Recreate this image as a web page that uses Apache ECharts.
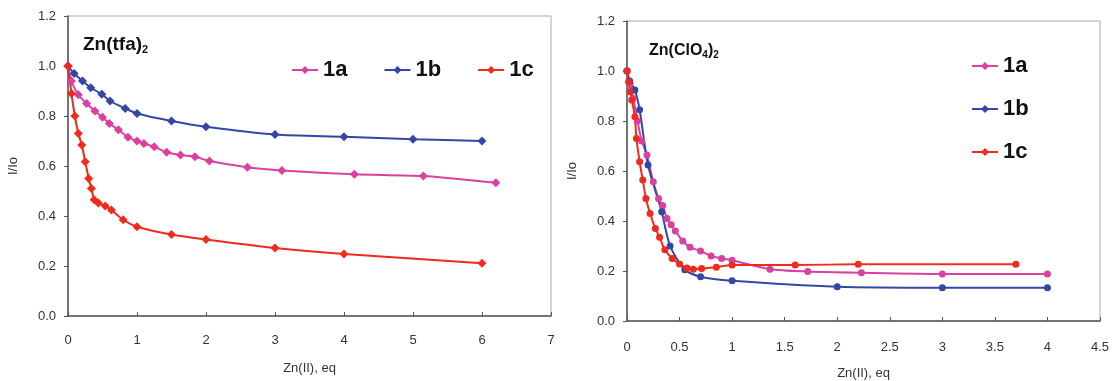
<!DOCTYPE html>
<html><head><meta charset="utf-8">
<script src="https://cdn.jsdelivr.net/npm/echarts@6/dist/echarts.min.js"></script>
<style>html,body{margin:0;padding:0;background:#fff}#c{width:1113px;height:381px}</style>
</head><body><div id="c"></div>
<script>
// Left panel: Zn(tfa)2
const L_1a_x = [0,0.05,0.15,0.27,0.39,0.5,0.6,0.73,0.87,1.0,1.1,1.25,1.43,1.63,1.84,2.05,2.6,3.1,4.15,5.15,6.2];
const L_1a_y = [1.0,0.94,0.885,0.85,0.82,0.795,0.77,0.745,0.715,0.70,0.69,0.677,0.655,0.644,0.637,0.62,0.595,0.582,0.567,0.56,0.533];
const L_1b_x = [0,0.09,0.21,0.33,0.49,0.61,0.83,1.0,1.5,2,3,4,5,6];
const L_1b_y = [1.0,0.97,0.94,0.913,0.887,0.86,0.83,0.81,0.78,0.757,0.726,0.717,0.707,0.70];
const L_1c_x = [0,0.05,0.1,0.15,0.2,0.25,0.3,0.34,0.38,0.44,0.54,0.63,0.8,1.0,1.5,2,3,4,6];
const L_1c_y = [1.0,0.89,0.80,0.73,0.684,0.617,0.55,0.51,0.465,0.452,0.44,0.424,0.385,0.357,0.326,0.306,0.272,0.248,0.211];
// Right panel: Zn(ClO4)2
const R_1a_x = [0,0.03,0.06,0.1,0.14,0.19,0.25,0.3,0.34,0.38,0.42,0.46,0.53,0.6,0.7,0.8,0.9,1.0,1.36,1.72,2.23,3.0,4.0];
const R_1a_y = [1.0,0.95,0.89,0.80,0.72,0.664,0.557,0.49,0.462,0.41,0.385,0.36,0.32,0.295,0.28,0.26,0.25,0.243,0.207,0.198,0.193,0.188,0.188];
const R_1b_x = [0,0.025,0.075,0.12,0.2,0.33,0.41,0.55,0.7,1.0,2.0,3.0,4.0];
const R_1b_y = [1.0,0.96,0.924,0.845,0.624,0.437,0.30,0.205,0.177,0.161,0.137,0.133,0.133];
const R_1c_x = [0,0.015,0.03,0.045,0.075,0.09,0.12,0.15,0.18,0.22,0.27,0.31,0.36,0.43,0.5,0.57,0.63,0.71,0.85,1.0,1.6,2.2,3.7];
const R_1c_y = [1.0,0.957,0.917,0.884,0.817,0.73,0.637,0.564,0.49,0.43,0.37,0.335,0.285,0.25,0.228,0.212,0.207,0.21,0.215,0.224,0.224,0.227,0.227];
const seriesNames = ['1a','1b','1c'];
const colors = ['#d9409f','#3347a8','#ee2b1c'];

const zip = (xs, ys) => xs.map((x,i)=>[x, ys[i]]);
const chart = echarts.init(document.getElementById('c'));
const axisCommonY = (gi, gap) => ({
  type:'value', gridIndex:gi, min:0, max:1.2, interval:0.2,
  name:'I/Io', nameLocation:'middle', nameGap:gap,
  nameTextStyle:{fontFamily:'Liberation Sans',fontSize:13,color:'#333'},
  axisLine:{show:true,lineStyle:{color:'#555',width:1.5}},
  axisTick:{show:true,length:4,lineStyle:{color:'#555'}},
  axisLabel:{fontFamily:'Liberation Sans',fontSize:13,color:'#333',margin:12,formatter:v=>v.toFixed(1)},
  splitLine:{show:false}
});
const axisCommonX = (gi, max, iv, margin, gap) => ({
  type:'value', gridIndex:gi, min:0, max, interval:iv,
  name:'Zn(II), eq', nameLocation:'middle', nameGap:gap,
  nameTextStyle:{fontFamily:'Liberation Sans',fontSize:13,color:'#333'},
  axisLine:{show:true,lineStyle:{color:'#555',width:1.5}},
  axisTick:{show:true,length:4,inside:true,lineStyle:{color:'#555'}},
  axisLabel:{fontFamily:'Liberation Sans',fontSize:13,color:'#333',margin},
  splitLine:{show:false}
});
const mk = (name, data, gi, color, sym) => ({
  name, type:'line', xAxisIndex:gi, yAxisIndex:gi, data,
  symbol:sym, symbolSize:sym==='diamond'?9:7,
  lineStyle:{color, width:2}, itemStyle:{color}, smooth:0.25
});
const legendText = {fontFamily:'Liberation Sans',fontWeight:'bold',fontSize:22,color:'#111'};
chart.setOption({
  animation:false,
  backgroundColor:'#fff',
  title:[
    {text:'{a|Zn(tfa)}{s|2}', left:78, top:29, textStyle:{rich:{
      a:{fontFamily:'Liberation Sans',fontWeight:'bold',fontSize:19,color:'#111'},
      s:{fontFamily:'Liberation Sans',fontWeight:'bold',fontSize:11,color:'#111',padding:[10,0,0,0]}}}},
    {text:'{a|Zn(ClO}{s|4}{a|)}{s|2}', left:644, top:36, textStyle:{rich:{
      a:{fontFamily:'Liberation Sans',fontWeight:'bold',fontSize:16,color:'#111'},
      s:{fontFamily:'Liberation Sans',fontWeight:'bold',fontSize:10,color:'#111',padding:[9,0,0,0]}}}}
  ],
  legend:[
    {data:seriesNames.map(n=>({name:n})), left:286, top:54, itemGap:36, itemWidth:26, itemHeight:10,
     textStyle:legendText, selectedMode:false},
    {data:seriesNames.map(n=>({name:n})), orient:'vertical', left:966, top:50, itemGap:21, itemWidth:26, itemHeight:10,
     textStyle:legendText, selectedMode:false}
  ],
  grid:[
    {left:68, right:562, top:16, bottom:65, show:true, borderColor:'#aaa', borderWidth:1, containLabel:false, outerBoundsMode:'none'},
    {left:627, right:13, top:21, bottom:60, show:true, borderColor:'#aaa', borderWidth:1, containLabel:false, outerBoundsMode:'none'}
  ],
  xAxis:[axisCommonX(0, 7, 1, 18, 46), axisCommonX(1, 4.5, 0.5, 20, 46)],
  yAxis:[axisCommonY(0, 48), axisCommonY(1, 48)],
  series:[
    mk('1a', zip(L_1a_x,L_1a_y), 0, colors[0], 'diamond'),
    mk('1b', zip(L_1b_x,L_1b_y), 0, colors[1], 'diamond'),
    mk('1c', zip(L_1c_x,L_1c_y), 0, colors[2], 'diamond'),
    mk('1a', zip(R_1a_x,R_1a_y), 1, colors[0], 'circle'),
    mk('1b', zip(R_1b_x,R_1b_y), 1, colors[1], 'circle'),
    mk('1c', zip(R_1c_x,R_1c_y), 1, colors[2], 'circle')
  ]
});
</script></body></html>
